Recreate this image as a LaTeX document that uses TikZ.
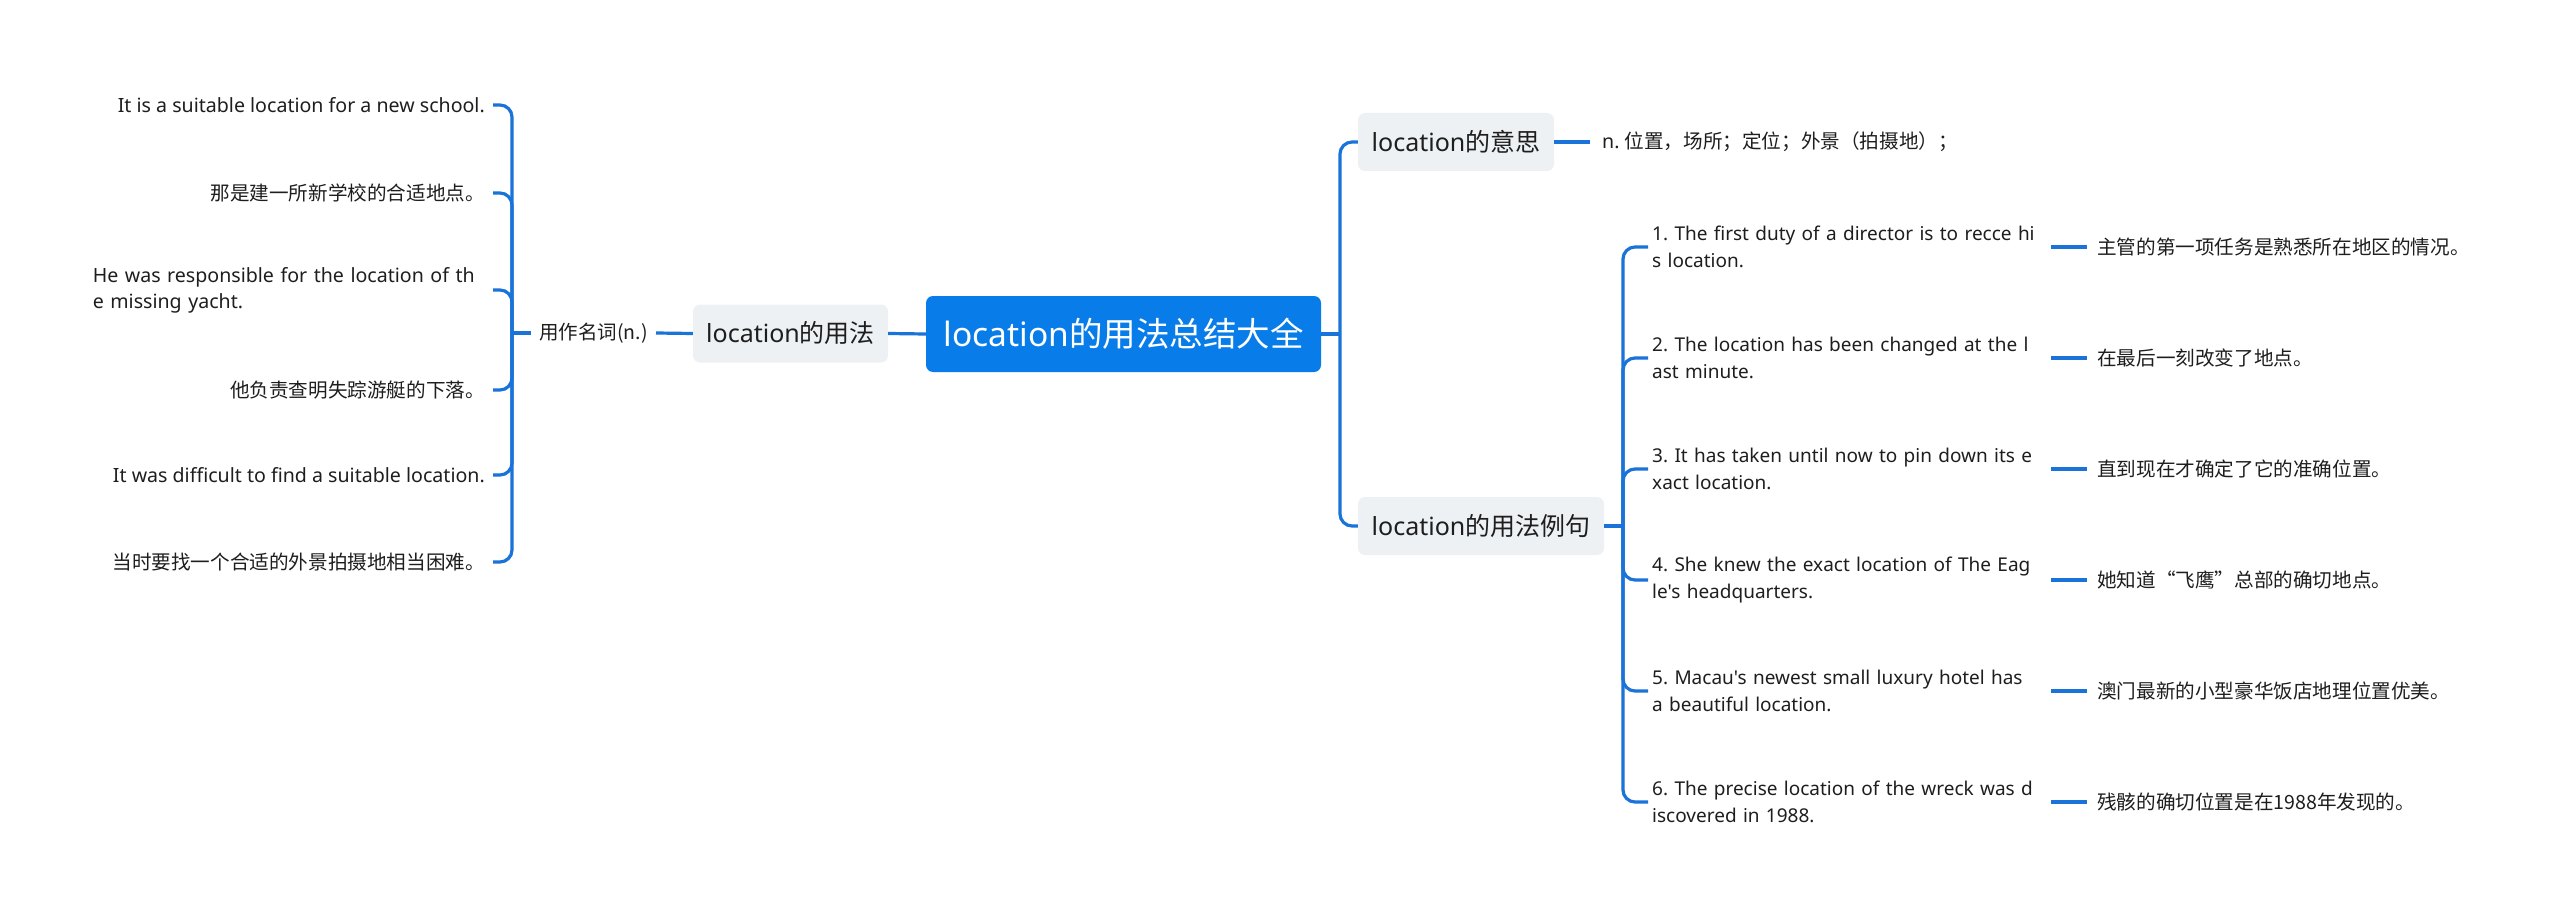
\documentclass[tikz,border=0pt]{standalone}
\usepackage{fontspec}
\setmainfont{Noto Sans}
\newfontfamily\latin{Noto Sans}
\newfontfamily\cjk{Noto Sans CJK SC}
\definecolor{mainblue}{RGB}{8,124,232}
\definecolor{linkblue}{RGB}{26,115,216}
\definecolor{subgray}{RGB}{238,241,244}
\definecolor{txt}{RGB}{30,30,30}
\frenchspacing
\begin{document}
\begin{tikzpicture}[x=1pt,y=-1pt,
  conn/.style={draw=linkblue, line width=3.2pt, rounded corners=12pt},
  rootnode/.style={fill=mainblue, text=white, rounded corners=7pt, minimum width=395pt, minimum height=76pt, font=\latin\fontsize{33.5}{40}\selectfont, inner sep=0pt},
  topic/.style={fill=subgray, text=txt, rounded corners=7pt, minimum height=58pt, font=\latin\fontsize{25}{30}\selectfont, inner sep=0pt},
  leaf/.style={text=txt, font=\latin\fontsize{19.6}{26}\selectfont, inner xsep=8pt, inner ysep=2pt},
  exleaf/.style={leaf, font=\latin\fontsize{19}{26.5}\selectfont, text width=395pt, align=left, inner xsep=4pt},
]
\useasboundingbox[fill=white] (0,0) rectangle (2560,923);

% root
\node[rootnode] (root) at (1123.5,334) {location{\cjk 的用法总结大全}};

% left side
\node[topic, minimum width=195pt] (usage) at (790.5,333.5) {location{\cjk 的用法}};
\node[leaf, anchor=east, font=\fontsize{19.5}{24}\selectfont] (noun) at (656,333) {\cjk 用作名词(n.)};
\coordinate (lf) at (512,333);
\draw[conn] (usage.east) -- (root.west);
\draw[conn] (noun.east) -- (usage.west);
\draw[conn] (noun.west) -- (lf);

\node[leaf, anchor=east] (L1) at (493,105) {It is a suitable location for a new school.};
\node[leaf, anchor=east] (L2) at (493,193) {\cjk 那是建一所新学校的合适地点。};
\node[leaf, anchor=east, text width=392pt, align=left] (L3) at (493,290) {He was responsible for the location of th\\e missing yacht.};
\node[leaf, anchor=east] (L4) at (493,390) {\cjk 他负责查明失踪游艇的下落。};
\node[leaf, anchor=east] (L5) at (493,475) {It was difficult to find a suitable location.};
\node[leaf, anchor=east] (L6) at (493,562) {\cjk 当时要找一个合适的外景拍摄地相当困难。};
\foreach \n in {L1,L2,L3,L4,L5,L6} {\draw[conn] (lf) |- (\n.east);}

% right side
\coordinate (rf) at (1340,334);
\draw[conn] (root.east) -- (rf);
\node[topic, minimum width=196pt] (mean) at (1456,142) {location{\cjk 的意思}};
\node[topic, minimum width=246pt] (ex) at (1481,526) {location{\cjk 的用法例句}};
\draw[conn] (rf) |- (mean.west);
\draw[conn] (rf) |- (ex.west);

\node[leaf, anchor=west, inner xsep=12pt] (meantxt) at (1590,142) {n. {\cjk 位置，场所；定位；外景（拍摄地）；}};
\draw[conn] (mean.east) -- (meantxt.west);

\coordinate (ef) at (1623,526);
\draw[conn] (ex.east) -- (ef);

\node[exleaf, anchor=west] (E1) at (1648,247) {1. The first duty of a director is to recce hi\\s location.};
\node[exleaf, anchor=west] (E2) at (1648,358) {2. The location has been changed at the l\\ast minute.};
\node[exleaf, anchor=west] (E3) at (1648,469) {3. It has taken until now to pin down its e\\xact location.};
\node[exleaf, anchor=west] (E4) at (1648,580) {4. She knew the exact location of The Eag\\le's headquarters.};
\node[exleaf, anchor=west] (E5) at (1648,691) {5. Macau's newest small luxury hotel has\\a beautiful location.};
\node[exleaf, anchor=west] (E6) at (1648,802) {6. The precise location of the wreck was d\\iscovered in 1988.};

\node[leaf, anchor=west, inner xsep=10pt] (T1) at (2087,247) {\cjk 主管的第一项任务是熟悉所在地区的情况。};
\node[leaf, anchor=west, inner xsep=10pt] (T2) at (2087,358) {\cjk 在最后一刻改变了地点。};
\node[leaf, anchor=west, inner xsep=10pt] (T3) at (2087,469) {\cjk 直到现在才确定了它的准确位置。};
\node[leaf, anchor=west, inner xsep=10pt] (T4) at (2087,580) {\cjk 她知道“飞鹰”总部的确切地点。};
\node[leaf, anchor=west, inner xsep=10pt] (T5) at (2087,691) {\cjk 澳门最新的小型豪华饭店地理位置优美。};
\node[leaf, anchor=west, inner xsep=10pt] (T6) at (2087,802) {\cjk 残骸的确切位置是在1988年发现的。};

\foreach \i in {1,...,6} {
  \draw[conn] (ef) |- (E\i.west);
  \draw[conn] (E\i.east) -- (T\i.west);
}
\end{tikzpicture}
\end{document}
